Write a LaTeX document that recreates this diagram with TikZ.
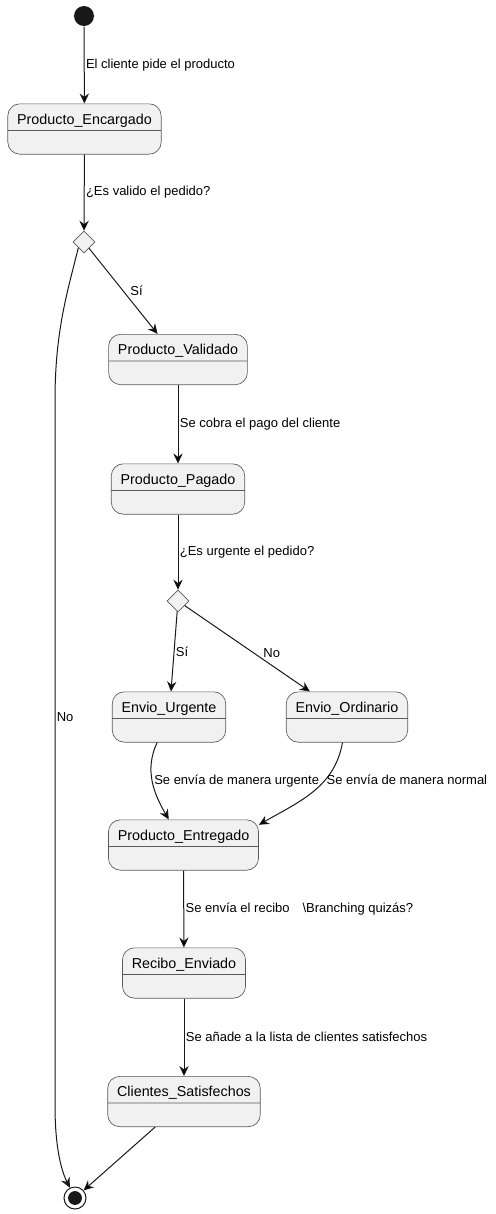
\documentclass[tikz,border=0pt]{standalone}
\usepackage{fontspec}
\setmainfont{Liberation Sans}
\usetikzlibrary{shapes.geometric,shapes.multipart,arrows.meta}
\definecolor{stategray}{HTML}{F1F1F1}
\definecolor{linegray}{HTML}{181818}
\definecolor{bordergray}{HTML}{5A5A5A}

\begin{document}
\begin{tikzpicture}[x=0.75pt, y=-0.75pt, line width=0.75pt,
        state/.style = {rectangle split, rectangle split parts=2, draw=bordergray, fill=stategray, rounded corners=9pt, line width=0.5pt,
            inner xsep=7pt, inner ysep=4pt, text height=11pt, text depth=0.5pt,
            rectangle split empty part height=9.25pt, rectangle split empty part depth=0pt, font=\fontsize{10.75}{12}\selectfont},
        choice/.style = {diamond, aspect=1, draw=bordergray, fill=stategray, line width=0.5pt, inner sep=0pt, minimum size=16.5pt},
        start/.style = {circle, fill=linegray, inner sep=0pt, minimum size=15pt},
        finish/.style = {circle, draw=linegray, inner sep=0pt, minimum size=16.5pt,
            path picture={\fill[linegray] (path picture bounding box.center) circle (5.2pt);}},
        lbl/.style = {font=\fontsize{9.75}{11}\selectfont, inner sep=1pt, text=black},
        arr/.style = {-{Stealth[length=7.5pt, width=7pt, inset=2.5pt]}, draw=linegray}]
    \useasboundingbox (0,0) rectangle (496,1214);
    \node[start] (inicio) at (84,16) {};
    \node[state] (encargado) at (84.5,129) {Producto\_Encargado};
    \node[choice] (valido) at (84,242) {};
    \node[state] (validado) at (178,359.5) {Producto\_Validado};
    \node[state] (pagado) at (178,489) {Producto\_Pagado};
    \node[choice] (urgente) at (178,601) {};
    \node[state] (envurgente) at (169,717) {Envio\_Urgente};
    \node[state] (envordinario) at (347,717) {Envio\_Ordinario};
    \node[state] (entregado) at (183.5,845) {Producto\_Entregado};
    \node[state] (recibo) at (184,973) {Recibo\_Enviado};
    \node[state] (satisfechos) at (184,1101.5) {Clientes\_Satisfechos};
    \node[finish] (fin) at (75,1198) {};

    \draw[arr] (inicio) edge node[lbl, right] {El cliente pide el producto} (encargado);
    \draw[arr] (encargado) edge node[lbl, right] {¿Es valido el pedido?} (valido);
    \draw[arr] (valido) edge node[lbl, right=4pt] {Sí} (validado);
    \draw[arr] (valido.south west) .. controls (68,290) and (55,330) .. (55,400)
        -- node[lbl, right, pos=0.45] {No} (55,1105) .. controls (55,1150) and (62,1172) .. (fin);
    \draw[arr] (validado) edge node[lbl, right] {Se cobra el pago del cliente} (pagado);
    \draw[arr] (pagado) edge node[lbl, right] {¿Es urgente el pedido?} (urgente);
    \draw[arr] (urgente) edge node[lbl, right] {Sí} (envurgente);
    \draw[arr] (urgente) edge node[lbl, right=6pt, pos=0.55] {No} (envordinario);
    \draw[arr] (envurgente) edge[out=-115, in=120] node[lbl, right] {Se envía de manera urgente} (entregado);
    \draw[arr] (envordinario) edge[out=-100, in=30] node[lbl, right, pos=0.35] {Se envía de manera normal} (entregado.15);
    \draw[arr] (entregado) edge node[lbl, right] {Se envía el recibo\hspace{1em}\textbackslash Branching quizás?} (recibo);
    \draw[arr] (recibo) edge node[lbl, right] {Se añade a la lista de clientes satisfechos} (satisfechos);
    \draw[arr] (satisfechos) edge (fin);
\end{tikzpicture}
\end{document}
